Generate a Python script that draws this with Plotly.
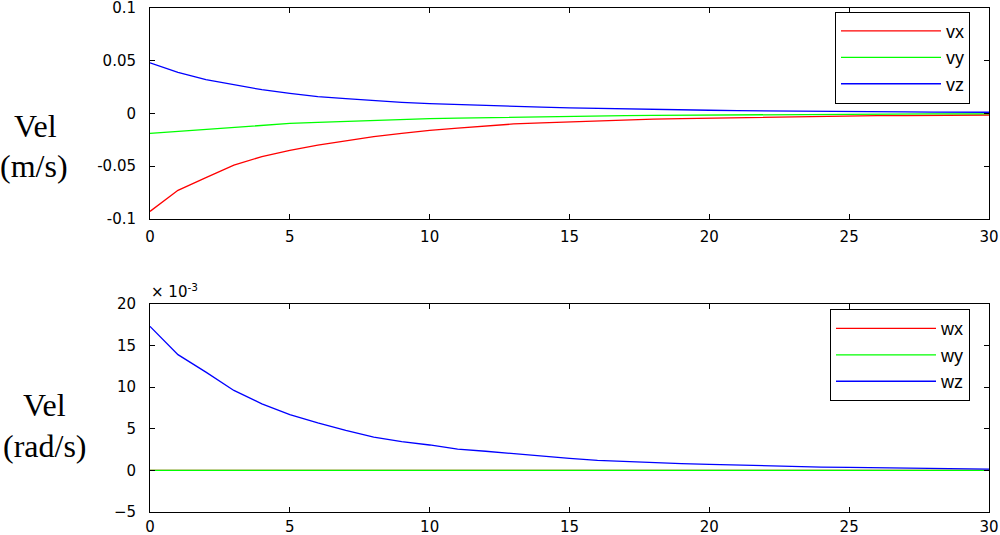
import plotly.graph_objects as go

t = list(range(31))

vx = [-0.093, -0.073, -0.061, -0.049, -0.041, -0.035, -0.030, -0.026, -0.022, -0.019,
      -0.016, -0.014, -0.012, -0.010, -0.009, -0.008, -0.007, -0.006, -0.0055, -0.005,
      -0.0045, -0.004, -0.0035, -0.003, -0.003, -0.0025, -0.002, -0.002, -0.0018, -0.0015, -0.0015]
vy = [-0.019, -0.017, -0.015, -0.013, -0.011, -0.0095, -0.0085, -0.0075, -0.0065, -0.0058,
      -0.005, -0.0045, -0.004, -0.0035, -0.003, -0.0027, -0.0024, -0.002, -0.0018, -0.0016,
      -0.0014, -0.0012, -0.0011, -0.001, -0.0009, -0.0008, -0.0007, -0.0006, -0.0005, -0.0005, -0.0004]
vz = [0.048, 0.039, 0.032, 0.027, 0.0225, 0.019, 0.016, 0.014, 0.012, 0.0105,
      0.0093, 0.0083, 0.0074, 0.0066, 0.0059, 0.0053, 0.0047, 0.0042, 0.0038, 0.0034,
      0.003, 0.0027, 0.0024, 0.0022, 0.002, 0.0018, 0.0016, 0.0014, 0.0013, 0.0012, 0.0011]

# angular velocities, in units of 1e-3 rad/s
wx = [0.0] * 31
wy = [0.0] * 31
wz = [17.3, 13.9, 11.8, 9.6, 8.0, 6.7, 5.7, 4.8, 4.0, 3.45,
      3.05, 2.56, 2.3, 2.0, 1.75, 1.45, 1.2, 1.05, 0.92, 0.82,
      0.72, 0.62, 0.54, 0.48, 0.4, 0.36, 0.32, 0.22, 0.17, 0.16, 0.15]

x_ticks = [0, 5, 10, 15, 20, 25, 30]
top_yticks = [-0.1, -0.05, 0, 0.05, 0.1]
top_yticktext = ["-0.1", "-0.05", "0", "0.05", "0.1"]
bot_yticks = [-5, 0, 5, 10, 15, 20]

RED, GREEN, BLUE = "#ff0000", "#00ff00", "#0000ff"

fig = go.Figure()
for name, y, c in [("vx", vx, RED), ("vy", vy, GREEN), ("vz", vz, BLUE)]:
    fig.add_trace(go.Scatter(x=t, y=y, name=name, mode="lines", line=dict(color=c, width=1.3),
                             xaxis="x", yaxis="y", legend="legend"))
for name, y, c in [("wx", wx, RED), ("wy", wy, GREEN), ("wz", wz, BLUE)]:
    fig.add_trace(go.Scatter(x=t, y=y, name=name, mode="lines", line=dict(color=c, width=1.3),
                             xaxis="x2", yaxis="y2", legend="legend2"))

tickfont = dict(family="DejaVu Sans, Arial", size=15, color="black")
axcommon = dict(showline=True, linecolor="black", linewidth=1, mirror="ticks",
                ticks="inside", ticklen=5, tickcolor="black", showgrid=False,
                zeroline=False, tickfont=tickfont, automargin=False,
                ticklabeloverflow="allow")
ycommon = dict(ticklabelstandoff=10, **axcommon)

legfont = dict(family="Arial, Liberation Sans", size=18, color="black")

fig.update_layout(
    width=1000, height=535,
    margin=dict(l=0, r=0, t=0, b=0),
    paper_bgcolor="white", plot_bgcolor="white",
    xaxis=dict(domain=[0.150, 0.989], range=[0, 30], tickvals=x_ticks, anchor="y",
               ticklabelstandoff=4, **axcommon),
    yaxis=dict(domain=[0.591, 0.985], range=[-0.1, 0.1], tickvals=top_yticks,
               ticktext=top_yticktext, anchor="x", **ycommon),
    xaxis2=dict(domain=[0.150, 0.989], range=[0, 30], tickvals=x_ticks, anchor="y2",
                ticklabelstandoff=1, **axcommon),
    yaxis2=dict(domain=[0.043, 0.432], range=[-5, 20], tickvals=bot_yticks, anchor="x2", **ycommon),
    legend=dict(x=0.970, y=0.978, xanchor="right", yanchor="top", bordercolor="black",
                borderwidth=1, bgcolor="white", font=legfont,
                itemwidth=100, tracegroupgap=0),
    legend2=dict(x=0.970, y=0.422, xanchor="right", yanchor="top", bordercolor="black",
                 borderwidth=1, bgcolor="white", font=legfont,
                 itemwidth=100, tracegroupgap=0),
    showlegend=True,
)

serif = dict(family="Liberation Serif, Times New Roman, serif", size=32, color="black")
for txt, xc, yc in [("Vel", 35, 126), ("(m/s)", 34, 166), ("Vel", 44, 405), ("(rad/s)", 45, 446)]:
    fig.add_annotation(text=txt, xref="paper", yref="paper", x=xc / 1000, y=1 - yc / 535,
                       showarrow=False, font=serif, xanchor="center", yanchor="middle")
fig.add_annotation(text="× 10<sup>-3</sup>", xref="paper", yref="paper", x=0.149, y=1 - 291 / 535,
                   showarrow=False, font=dict(family="DejaVu Sans, Arial", size=15, color="black"),
                   xanchor="left", yanchor="middle")

fig.write_html("out.html", config={"displayModeBar": False},
               post_script="document.body.style.margin='0';")
